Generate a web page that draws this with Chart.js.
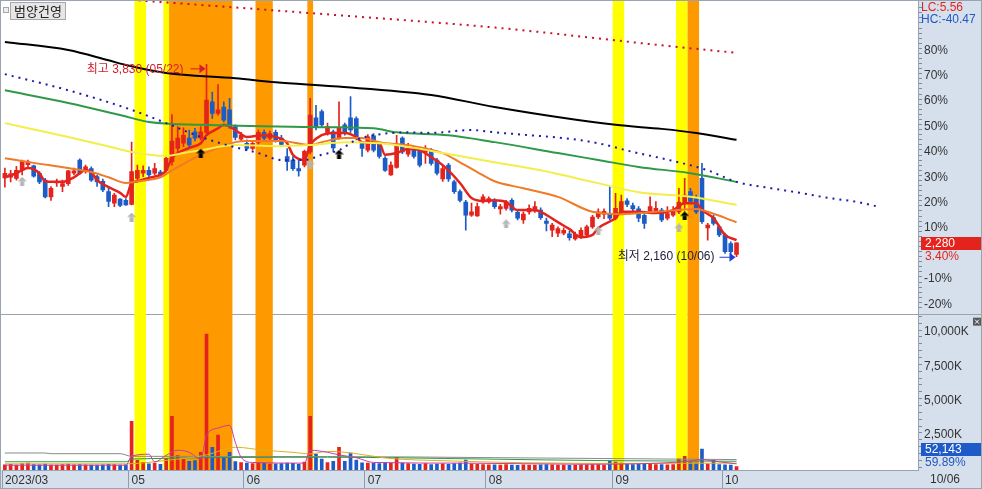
<!DOCTYPE html>
<html>
<head>
<meta charset="utf-8">
<script src="https://cdn.jsdelivr.net/npm/chart.js@4.4.0/dist/chart.umd.min.js"></script>
<style>
  html, body { margin: 0; padding: 0; background: #fff; }
  #chart { display: block; }
</style>
</head>
<body>
<canvas id="chart" width="982" height="489"></canvas>
<script>
var stockName = "범양건영";
var basePrice = 2205;        // previous close = 0% on the right axis
var lastVolume = 52143;
var volumeRatio = "59.89%";

// trading days shown, by month
var tradingDays = [
    [3, [30, 31]],
    [4, [3, 4, 5, 6, 7, 10, 11, 12, 13, 14, 17, 18, 19, 20, 21, 24, 25, 26, 27, 28]],
    [5, [2, 3, 4, 8, 9, 10, 11, 12, 15, 16, 17, 18, 19, 22, 23, 24, 25, 26, 30, 31]],
    [6, [1, 2, 5, 7, 8, 9, 12, 13, 14, 15, 16, 19, 20, 21, 22, 23, 26, 27, 28, 29, 30]],
    [7, [3, 4, 5, 6, 7, 10, 11, 12, 13, 14, 17, 18, 19, 20, 21, 24, 25, 26, 27, 28, 31]],
    [8, [1, 2, 3, 4, 7, 8, 9, 10, 11, 14, 16, 17, 18, 21, 22, 23, 24, 25, 28, 29, 30, 31]],
    [9, [1, 4, 5, 6, 7, 8, 11, 12, 13, 14, 15, 18, 19, 20, 21, 22, 25, 26, 27]],
    [10, [4, 5, 6]]
];
// empty space to the right (leading line runs into it)
var futureDays = [
    [10, [10, 11, 12, 13, 16, 17, 18, 19, 20, 23, 24, 25, 26, 27, 30, 31]],
    [11, [1, 2, 3, 6, 7, 8, 9, 10, 13, 14, 15, 16, 17, 20, 21]]
];
var monthLabels = { 3: "2023/03", 5: "05", 6: "06", 7: "07", 8: "08", 9: "09", 10: "10" };

var openP = [
    2845, 2850, 2840, 2910, 2960, 2950, 2885, 2825, 2680, 2800,
    2770, 2795, 2885, 3000, 2900, 2925, 2855, 2815, 2725, 2625,
    2660, 2650, 2615, 2840, 2885, 2910, 2885, 2895, 2910, 2985,
    3100, 3145, 3190, 3245, 3190, 3240, 3505, 3405, 3460, 3435,
    3290, 3180, 3145, 3100, 3155, 3240, 3190, 3240, 3190, 3030,
    3000, 2925, 2955, 3070, 3365, 3420, 3240, 3245, 3190, 3305,
    3365, 3360, 3145, 3085, 3210, 3135, 3015, 2870, 2935, 3190,
    3050, 3100, 3085, 3065, 3085, 3000, 2835, 2955, 2810, 2725,
    2635, 2520, 2515, 2635, 2635, 2650, 2575, 2580, 2650, 2545,
    2480, 2550, 2555, 2565, 2470, 2390, 2365, 2365, 2360, 2315,
    2325, 2350, 2420, 2505, 2530, 2530, 2495, 2550, 2645, 2605,
    2575, 2520, 2555, 2550, 2565, 2495, 2520, 2550, 2625, 2725,
    2665, 2840, 2410, 2500, 2420, 2350, 2275, 2180
];
var highP = [
    2930, 2910, 2945, 3000, 3000, 2955, 2900, 2840, 2770, 2835,
    2825, 2910, 2930, 3010, 2955, 2940, 2870, 2835, 2755, 2710,
    2665, 2665, 3155, 2955, 2950, 2940, 2970, 2910, 3025, 3395,
    3290, 3280, 3260, 3275, 3290, 3830, 3590, 3655, 3505, 3535,
    3305, 3240, 3175, 3160, 3260, 3260, 3250, 3260, 3215, 3100,
    3030, 3000, 3085, 3535, 3475, 3435, 3320, 3260, 3505, 3320,
    3550, 3375, 3160, 3220, 3230, 3155, 3030, 2985, 3215, 3200,
    3145, 3115, 3100, 3125, 3100, 3015, 2955, 2970, 2825, 2740,
    2650, 2625, 2625, 2700, 2680, 2665, 2615, 2650, 2665, 2555,
    2550, 2610, 2640, 2585, 2495, 2450, 2420, 2410, 2380, 2375,
    2410, 2435, 2520, 2575, 2575, 2770, 2710, 2695, 2665, 2625,
    2595, 2535, 2680, 2640, 2580, 2595, 2595, 2755, 2840, 2755,
    2695, 2970, 2450, 2520, 2435, 2365, 2290, 2280
];
var lowP = [
    2765, 2810, 2825, 2870, 2930, 2850, 2795, 2670, 2650, 2770,
    2725, 2780, 2870, 2875, 2885, 2815, 2770, 2725, 2595, 2595,
    2595, 2605, 2610, 2810, 2855, 2855, 2870, 2855, 2895, 2955,
    3070, 3115, 3105, 3165, 3175, 3215, 3360, 3390, 3330, 3275,
    3175, 3165, 3085, 3085, 3135, 3175, 3165, 3155, 3115, 2910,
    2910, 2860, 2940, 3055, 3260, 3290, 3215, 3070, 3180, 3215,
    3240, 3175, 3030, 3070, 3070, 3015, 2900, 2865, 2930, 3055,
    3030, 3015, 2940, 2970, 2955, 2870, 2815, 2815, 2710, 2635,
    2390, 2510, 2510, 2625, 2625, 2580, 2530, 2565, 2550, 2480,
    2450, 2530, 2545, 2485, 2385, 2335, 2335, 2350, 2305, 2305,
    2320, 2335, 2405, 2490, 2490, 2480, 2480, 2530, 2595, 2555,
    2465, 2405, 2550, 2535, 2465, 2480, 2510, 2535, 2580, 2625,
    2535, 2450, 2305, 2435, 2335, 2190, 2175, 2160
];
var closeP = [
    2885, 2880, 2910, 2990, 2985, 2860, 2810, 2680, 2755, 2815,
    2795, 2905, 2905, 2885, 2940, 2825, 2810, 2740, 2640, 2695,
    2605, 2610, 2900, 2910, 2910, 2870, 2925, 2870, 3015, 3165,
    3190, 3215, 3130, 3190, 3245, 3520, 3405, 3435, 3345, 3290,
    3195, 3215, 3100, 3145, 3240, 3190, 3230, 3175, 3135, 2985,
    2925, 2905, 3075, 3390, 3290, 3305, 3290, 3105, 3280, 3230,
    3260, 3190, 3100, 3200, 3085, 3030, 2910, 2955, 3135, 3070,
    3085, 3030, 2955, 3100, 2970, 2885, 2925, 2835, 2725, 2650,
    2520, 2550, 2595, 2680, 2665, 2595, 2595, 2640, 2565, 2495,
    2530, 2580, 2595, 2500, 2450, 2435, 2405, 2390, 2325, 2355,
    2390, 2420, 2505, 2550, 2555, 2495, 2580, 2640, 2615, 2575,
    2495, 2450, 2595, 2580, 2480, 2535, 2555, 2635, 2695, 2640,
    2550, 2465, 2435, 2450, 2350, 2205, 2205, 2280
];
// volume, thousands of shares
var volumeK = [
    180, 220, 150, 260, 300, 200, 170, 240, 160, 150, 190, 230, 170, 200, 180, 160, 150, 170, 210, 190, 150, 170,
    3350, 500, 360, 250, 300, 220, 650, 3720, 850, 600, 430, 490, 1090, 9720, 1460, 2350, 800, 1090, 420, 350,
    300, 260, 330, 280, 240, 250, 270, 310, 290, 220, 380,
    3720, 970, 600, 350, 440, 1460, 440, 1040, 530, 330, 300, 280, 260, 320, 280, 730, 300, 260, 240, 220,
    260, 200, 230, 250, 210, 260, 300, 530, 250, 220, 200,
    180, 170, 160, 190, 150, 140, 170, 160, 150, 180, 190, 170, 150, 160, 140, 150, 170, 180, 200, 190, 160,
    450, 380, 300, 230, 200, 220, 250, 280, 200, 190, 170, 200, 600, 800, 350, 300, 1330, 250, 500, 200, 180, 150, 52
];

// moving average lines: [bar index, price]
var ma5 = [[0, 2850], [2, 2885], [4, 2930], [6, 2885], [7, 2815], [8, 2810], [10, 2810], [12, 2850], [14, 2910],
    [15, 2895], [16, 2825], [18, 2765], [20, 2715], [21, 2680], [22, 2800], [23, 2815], [25, 2845], [27, 2870],
    [28, 2910], [29, 3015], [32, 3105], [34, 3145], [35, 3215], [37, 3275], [38, 3305], [40, 3260], [42, 3200],
    [45, 3215], [47, 3200], [49, 3145], [50, 3045], [52, 3000], [53, 3130], [55, 3215], [57, 3235], [59, 3235],
    [61, 3200], [62, 3155], [65, 3145], [66, 3045], [68, 3060], [70, 3095], [72, 3085], [74, 3025], [76, 2955],
    [79, 2800], [81, 2670], [83, 2645], [85, 2650], [87, 2635], [89, 2565], [92, 2565], [93, 2550], [96, 2460],
    [98, 2400], [100, 2330], [102, 2350], [103, 2410], [106, 2495], [107, 2550], [110, 2550], [113, 2540],
    [116, 2565], [118, 2625], [120, 2625], [121, 2565], [123, 2495], [125, 2350], [127, 2305]];
var ma20 = [[0, 3015], [5, 2975], [11, 2930], [15, 2895], [18, 2850], [21, 2800], [23, 2815], [27, 2850], [29, 2910],
    [34, 3045], [37, 3105], [40, 3155], [42, 3165], [48, 3165], [53, 3130], [55, 3155], [59, 3190], [62, 3190],
    [65, 3155], [71, 3120], [76, 3060], [79, 2980], [82, 2895], [85, 2815], [90, 2755], [96, 2680], [102, 2550],
    [107, 2530], [113, 2550], [120, 2575], [122, 2550], [127, 2460]];
var ma60 = [[0, 3320], [11, 3200], [17, 3130], [22, 3070], [28, 3035], [31, 3060], [34, 3085], [40, 3130], [47, 3120],
    [53, 3130], [59, 3155], [65, 3145], [71, 3105], [76, 3060], [85, 2980], [93, 2910], [102, 2810], [110, 2720],
    [119, 2680], [127, 2610]];
var ma120 = [[0, 3605], [11, 3495], [20, 3390], [25, 3330], [34, 3305], [56, 3285], [64, 3275], [68, 3240], [77, 3215],
    [85, 3155], [96, 3060], [103, 3000], [110, 2940], [119, 2885], [127, 2810]];
var ma240 = [[0, 4025], [11, 3955], [18, 3865], [21, 3825], [28, 3755], [40, 3710], [47, 3675], [57, 3640], [74, 3565],
    [85, 3460], [106, 3305], [114, 3270], [120, 3235], [127, 3175]];
var leadLine = [[0, 3745], [11, 3605], [22, 3435], [28, 3320], [34, 3200], [40, 3110], [44, 3060], [48, 3000], [52, 3000],
    [55, 3045], [58, 3085], [61, 3175], [64, 3215], [70, 3240], [74, 3235], [81, 3260], [85, 3240], [91, 3215],
    [97, 3190], [103, 3145], [109, 3070], [114, 3015], [122, 2910], [127, 2810], [133, 2755], [138, 2715],
    [143, 2670], [148, 2635], [152, 2590]];
var trendTop = [[22, 4390], [57, 4260], [86, 4145], [114, 3995], [127, 3930]];

// volume averages [bar index, thousands]
var volMa5 = [[0, 150], [21, 150], [22, 800], [25, 950], [26, 400], [28, 870], [30, 1240], [32, 1090], [34, 600],
    [35, 2330], [37, 2860], [39, 3060], [40, 1820], [41, 730], [43, 350], [52, 300], [53, 1240], [56, 1090],
    [58, 900], [61, 700], [64, 350], [80, 300], [100, 220], [118, 400], [121, 550], [124, 400], [127, 250]];
var volMa20 = [[0, 250], [21, 250], [28, 500], [35, 900], [40, 1460], [45, 1240], [50, 1090], [53, 970], [56, 1160],
    [68, 600], [75, 490], [90, 330], [110, 280], [127, 300]];
var volMa60 = [[0, 400], [21, 400], [22, 600], [56, 730], [83, 600], [105, 480], [127, 440]];
var volMa120 = [[0, 1040], [7, 1040], [8, 990], [20, 990], [22, 800], [56, 780], [85, 700], [127, 560]];

// signal markers [bar index, price]
var grayArrows = [[3, 2815], [22, 2505], [53, 2965], [87, 2445], [103, 2385], [117, 2410]];
var blackArrows = [[34, 3060], [58, 3050], [118, 2515]];

// highlighted periods: first bar, last bar, kind (1 = yellow, 2 = orange)
var bandStart = [23, 28, 29, 44, 53, 106, 117, 119];
var bandEnd = [24, 28, 39, 46, 53, 107, 118, 120];
var bandKind = [1, 1, 2, 2, 2, 1, 1, 2];

var pctLabels = [-20, -10, 10, 20, 30, 40, 50, 60, 70, 80];
var volTickLabels = [2500, 5000, 7500, 10000];

var RED = "#e4231c", BLUE = "#1d5cc6", AXIS_BG = "#d6e0ec", FRAME = "#9aa3b0";
var FONT = '"Liberation Sans", "Noto Sans CJK KR", sans-serif';
var bandColors = { 1: "#ffff00", 2: "#ff9900" };

function pad(n) { return (n < 10 ? "0" : "") + n; }

var labels = [];
var axisText = {};
tradingDays.forEach(function (m) {
    m[1].forEach(function (d, k) {
        if (k === 0 && monthLabels[m[0]]) axisText[labels.length] = monthLabels[m[0]];
        labels.push(pad(m[0]) + "/" + pad(d));
    });
});
futureDays.forEach(function (m) {
    m[1].forEach(function (d) { labels.push(pad(m[0]) + "/" + pad(d)); });
});

function knots(list) {
    return list.map(function (k) { return { x: labels[k[0]], y: k[1] }; });
}

var wicks = [], bodies = [], candleColors = [];
for (var i = 0; i < closeP.length; i++) {
    wicks.push([lowP[i], highP[i]]);
    bodies.push([openP[i], closeP[i]]);
    candleColors.push(closeP[i] >= openP[i] ? RED : BLUE);
}

function makeArrow(color) {
    var cv = document.createElement("canvas");
    cv.width = 9; cv.height = 9;
    var g = cv.getContext("2d");
    g.fillStyle = color;
    g.beginPath(); g.moveTo(4.5, 0); g.lineTo(9, 4.5); g.lineTo(0, 4.5); g.closePath(); g.fill();
    g.fillRect(2.5, 4.5, 4, 4.5);
    return cv;
}

function maLine(data, color, width, dash, axis) {
    return {
        type: "line", data: knots(data), yAxisID: axis || "y",
        borderColor: color, borderWidth: width, borderDash: dash || [], borderCapStyle: "butt",
        pointRadius: 0, fill: false, cubicInterpolationMode: "monotone", order: 0
    };
}

function pctTicks() {
    var t = [];
    for (var p = -22; p <= 96; p += 2) t.push({ value: basePrice * (1 + p / 100) });
    return t;
}
function volTicks() {
    var t = [];
    for (var v = 0; v <= 11000; v += 500) t.push({ value: v });
    return t;
}
function noPadding(s) {
    s.paddingTop = 0; s.paddingBottom = 0; s.paddingLeft = 0; s.paddingRight = 0;
}

var chartStyle = {
    id: "chartStyle",
    beforeDraw: function (chart) {
        var c = chart.ctx, a = chart.chartArea, W = chart.width, H = chart.height;
        var split = Math.round(chart.scales.y.bottom) + 0.5;
        c.save();
        c.fillStyle = "#fff"; c.fillRect(0, 0, W, H);
        c.fillStyle = AXIS_BG;
        c.fillRect(a.right, 0, W - a.right, H);
        c.fillRect(0, a.bottom, W, H - a.bottom);
        c.strokeStyle = FRAME; c.lineWidth = 1;
        c.strokeRect(0.5, 0.5, W - 1, H - 1);
        c.beginPath(); c.moveTo(0, split); c.lineTo(W, split); c.stroke();
        c.restore();
    },
    beforeDatasetsDraw: function (chart) {
        var c = chart.ctx, a = chart.chartArea, xs = chart.scales.x;
        var half = (xs.getPixelForValue(1) - xs.getPixelForValue(0)) / 2;
        c.save();
        for (var b = 0; b < bandStart.length; b++) {
            var x0 = xs.getPixelForValue(bandStart[b]) - half;
            var x1 = xs.getPixelForValue(bandEnd[b]) + half;
            c.fillStyle = bandColors[bandKind[b]];
            c.fillRect(x0, a.top, x1 - x0, a.bottom - a.top);
        }
        c.restore();
    },
    afterDraw: function (chart) {
        var c = chart.ctx, a = chart.chartArea, xs = chart.scales.x, ys = chart.scales.y, yv = chart.scales.yVol;
        var last = closeP.length - 1;
        var hi = 0, lo = 0;
        for (var k = 1; k < highP.length; k++) {
            if (highP[k] > highP[hi]) hi = k;
            if (lowP[k] <= lowP[lo]) lo = k;
        }
        c.save();
        c.font = "12px " + FONT;
        c.textBaseline = "middle";

        // highest / lowest marks
        var xh = xs.getPixelForValue(hi), yh = ys.getPixelForValue(highP[hi]) + 4;
        c.fillStyle = "#d21f2c"; c.strokeStyle = "#d21f2c"; c.lineWidth = 1;
        c.textAlign = "right";
        c.fillText("최고 " + highP[hi].toLocaleString("en-US") + " (" + labels[hi] + ")", xh - 23, yh + 1);
        c.beginPath(); c.moveTo(xh - 16, yh + 0.5); c.lineTo(xh - 4, yh + 0.5); c.stroke();
        c.beginPath(); c.moveTo(xh - 1, yh + 0.5); c.lineTo(xh - 7, yh - 4); c.lineTo(xh - 7, yh + 5); c.closePath(); c.fill();

        var xl = xs.getPixelForValue(lo), yl = ys.getPixelForValue(lowP[lo]);
        c.fillStyle = "#1c1c3a";
        c.fillText("최저 " + lowP[lo].toLocaleString("en-US") + " (" + labels[lo] + ")", xl - 22, yl);
        c.fillStyle = "#1f3fd6"; c.strokeStyle = "#1f3fd6";
        c.beginPath(); c.moveTo(xl - 17, yl + 0.5); c.lineTo(xl - 5, yl + 0.5); c.stroke();
        c.beginPath(); c.moveTo(xl - 1, yl + 0.5); c.lineTo(xl - 7, yl - 4); c.lineTo(xl - 7, yl + 5); c.closePath(); c.fill();

        // title box
        c.textAlign = "left";
        c.fillStyle = "#eeeeee"; c.strokeStyle = "#a8a8a8";
        c.fillRect(3, 7, 5, 5); c.strokeRect(3.5, 7.5, 5, 5);
        c.fillStyle = "#e6e6e6";
        c.fillRect(10.5, 2.5, 55, 17); c.strokeRect(10.5, 2.5, 55, 17);
        c.fillStyle = "#222"; c.font = "13px \"Noto Sans CJK KR\", sans-serif";
        c.fillText(stockName, 14, 11.5);
        c.font = "12px " + FONT;

        // right axis readouts
        var ax = a.right + 3;
        c.fillStyle = RED;
        c.fillText("LC:" + ((closeP[last] / lowP[lo] - 1) * 100).toFixed(2), ax, 8);
        c.fillStyle = "#2257c4";
        c.fillText("HC:" + ((closeP[last] / highP[hi] - 1) * 100).toFixed(2), ax, 20);

        var yc = ys.getPixelForValue(closeP[last]);
        c.fillStyle = RED; c.fillRect(ax, Math.round(yc) - 6, 60, 13);
        c.fillStyle = "#fff"; c.fillText(closeP[last].toLocaleString("en-US"), ax + 4, Math.round(yc) + 0.5);
        c.fillStyle = RED;
        c.fillText(((closeP[last] / basePrice - 1) * 100).toFixed(2) + "%", ax + 4, Math.round(yc) + 13.5);

        var yb = yv.bottom - 20;
        c.fillStyle = "#1f5bc8"; c.fillRect(ax, yb - 7, 60, 13);
        c.fillStyle = "#fff"; c.fillText(lastVolume.toLocaleString("en-US"), ax + 4, yb);
        c.fillStyle = "#2257c4"; c.fillText(volumeRatio, ax + 4, yb + 12.5);

        // close button of the volume pane
        c.fillStyle = "#5a5a5a"; c.fillRect(973, yv.top + 4, 8, 8);
        c.strokeStyle = "#fff";
        c.beginPath();
        c.moveTo(975, yv.top + 6); c.lineTo(979, yv.top + 10);
        c.moveTo(979, yv.top + 6); c.lineTo(975, yv.top + 10);
        c.stroke();

        // date of last bar
        c.fillStyle = "#333";
        c.fillText(labels[last], a.right + 12, a.bottom + 10);
        c.restore();
    }
};

var ctx = document.getElementById("chart").getContext("2d");
Chart.defaults.font.family = FONT;
Chart.defaults.font.size = 12;

var myChart = new Chart(ctx, {
    type: "bar",
    data: {
        labels: labels,
        datasets: [
            maLine(trendTop, "#c8102e", 2, [2, 5]),
            maLine(ma240, "#000000", 2),
            maLine(leadLine, "#1c1ca8", 2, [2, 5]),
            maLine(ma120, "#2e9a48", 2),
            maLine(ma60, "#f3ee4a", 2),
            maLine(ma20, "#f07a28", 2),
            maLine(ma5, "#e4231c", 2.5),
            {
                type: "line", data: knots(grayArrows), showLine: false, order: -1,
                pointStyle: makeArrow("#b4b4b4"), pointRadius: 5
            },
            {
                type: "line", data: knots(blackArrows), showLine: false, order: -1,
                pointStyle: makeArrow("#000000"), pointRadius: 5
            },
            {
                data: bodies, backgroundColor: candleColors, barThickness: 4,
                grouped: false, order: 1, minBarLength: 1, yAxisID: "y"
            },
            {
                data: wicks, backgroundColor: candleColors, barThickness: 1,
                grouped: false, order: 2, yAxisID: "y"
            },
            maLine(volMa5, "#c63ca4", 1, null, "yVol"),
            maLine(volMa20, "#d9b21e", 1, null, "yVol"),
            maLine(volMa60, "#2e9a48", 1, null, "yVol"),
            maLine(volMa120, "#8a8a8a", 1, null, "yVol"),
            {
                data: volumeK, backgroundColor: candleColors, barThickness: 3,
                grouped: false, order: 3, base: -200, yAxisID: "yVol"
            }
        ]
    },
    options: {
        responsive: false,
        animation: false,
        events: [],
        layout: { autoPadding: false, padding: { top: 1, left: 2, right: 0, bottom: 0 } },
        plugins: {
            legend: { display: false },
            tooltip: { enabled: false }
        },
        scales: {
            x: {
                type: "category",
                offset: true,
                border: { display: true, color: FRAME },
                grid: {
                    offset: true,
                    drawOnChartArea: false,
                    tickLength: 19,
                    color: function (c) { return axisText[c.index] !== undefined ? "#8e9bb0" : "rgba(0,0,0,0)"; }
                },
                ticks: {
                    autoSkip: false, maxRotation: 0, minRotation: 0, align: "start",
                    padding: -16, color: "#333",
                    callback: function (v, i) { return axisText[i] || ""; }
                },
                afterFit: function (s) { s.height = 19; noPadding(s); }
            },
            y: {
                type: "linear", position: "right", stack: "panes", stackWeight: 2,
                min: 1666, max: 4380,
                border: { display: true, color: FRAME },
                grid: { drawOnChartArea: false, tickLength: 4, color: "#7d8ba0" },
                afterBuildTicks: function (s) { s.ticks = pctTicks(); },
                ticks: {
                    autoSkip: false, padding: 2, labelOffset: 2, color: "#333",
                    callback: function (v) {
                        var p = Math.round((v / basePrice - 1) * 100);
                        return pctLabels.indexOf(p) >= 0 ? p + "%" : "";
                    }
                },
                afterFit: function (s) { s.width = 64; noPadding(s); }
            },
            yVol: {
                type: "linear", position: "right", stack: "panes", stackWeight: 1,
                min: -200, max: 11200,
                border: { display: true, color: FRAME },
                grid: { drawOnChartArea: false, tickLength: 4, color: "#7d8ba0" },
                afterBuildTicks: function (s) { s.ticks = volTicks(); },
                ticks: {
                    autoSkip: false, padding: 2, labelOffset: 2, color: "#333",
                    callback: function (v) {
                        return volTickLabels.indexOf(v) >= 0 ? v.toLocaleString("en-US") + "K" : "";
                    }
                },
                afterFit: function (s) { s.width = 64; noPadding(s); }
            }
        }
    },
    plugins: [chartStyle]
});
</script>
</body>
</html>
